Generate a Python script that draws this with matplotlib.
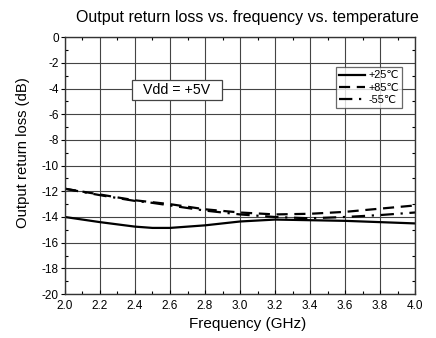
import matplotlib
matplotlib.use("Agg")
import matplotlib.pyplot as plt
from matplotlib.ticker import MultipleLocator, FormatStrFormatter
from matplotlib.patches import Rectangle

plt.rcParams['font.family'] = ['Liberation Sans', 'DejaVu Sans']

freq = [2.0, 2.2, 2.4, 2.5, 2.6, 2.8, 3.0, 3.2, 3.4, 3.6, 3.8, 4.0]
rl_25 = [-14.0, -14.4, -14.75, -14.85, -14.85, -14.65, -14.35, -14.2, -14.25, -14.3, -14.4, -14.5]
rl_85 = [-11.8, -12.25, -12.7, -12.85, -13.0, -13.4, -13.65, -13.8, -13.75, -13.6, -13.35, -13.1]
rl_m55 = [-11.8, -12.3, -12.75, -12.9, -13.1, -13.5, -13.8, -14.0, -14.1, -14.0, -13.85, -13.65]

fig = plt.figure(figsize=(4.36, 3.38), dpi=100)
ax = fig.add_axes([0.149, 0.130, 0.803, 0.760])

ax.plot(freq, rl_25, color='black', lw=1.6, ls='-', label='+25\u2103')
ax.plot(freq, rl_85, color='black', lw=1.6, ls=(0, (5, 3)), label='+85\u2103')
ax.plot(freq, rl_m55, color='black', lw=1.6, ls=(0, (6, 3, 1, 3)), label='-55\u2103')

ax.set_xlim(2.0, 4.0)
ax.set_ylim(-20, 0)
ax.xaxis.set_major_locator(MultipleLocator(0.2))
ax.xaxis.set_minor_locator(MultipleLocator(0.1))
ax.yaxis.set_major_locator(MultipleLocator(2))
ax.yaxis.set_minor_locator(MultipleLocator(1))
ax.xaxis.set_major_formatter(FormatStrFormatter('%.1f'))
ax.yaxis.set_major_formatter(FormatStrFormatter('%d'))
ax.grid(True, which='major', color='#444444', lw=0.8)
ax.tick_params(which='major', direction='out', length=3, labelsize=8.5, width=0.8, pad=1.5)
ax.tick_params(which='minor', direction='in', length=2.5, width=0.8, top=True, right=True)
ax.tick_params(axis='x', which='major', direction='in', length=3, pad=4.5)
for s in ax.spines.values():
    s.set_color('#333333')
    s.set_linewidth(1.0)

ax.set_xlabel('Frequency (GHz)', fontsize=11)
ax.xaxis.set_label_coords(0.521, -0.09)
ax.set_ylabel('Output return loss (dB)', fontsize=10.7)
ax.yaxis.set_label_coords(-0.10, 0.55)
ax.text(0.521, 1.075, 'Output return loss vs. frequency vs. temperature', transform=ax.transAxes,
        ha='center', va='center', fontsize=11.5)

ax.add_patch(Rectangle((0.191, 0.754), 0.258, 0.078, transform=ax.transAxes,
                       fc='white', ec='#444444', lw=0.9, zorder=4))
ax.text(0.32, 0.793, 'Vdd = +5V', transform=ax.transAxes, ha='center', va='center',
        fontsize=10.2, zorder=5)

leg = ax.legend(loc='upper right', bbox_to_anchor=(0.963, 0.883), fontsize=7.8, frameon=True,
                fancybox=False, edgecolor='#444444', handlelength=2.4, borderpad=0.3,
                labelspacing=0.2, handletextpad=0.3, borderaxespad=0)
leg.get_frame().set_linewidth(0.9)

fig.savefig('out.png', dpi=100)
